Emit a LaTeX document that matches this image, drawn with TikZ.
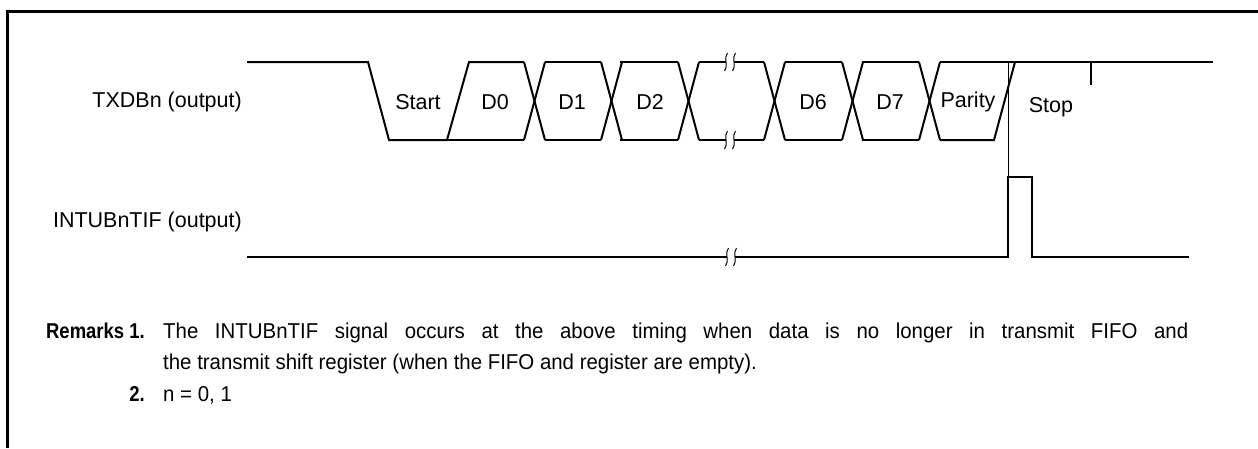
\documentclass[tikz,border=0pt]{standalone}
\usepackage{fontspec}
\setmainfont{Liberation Sans}
\newfontfamily\rmkfont[FakeStretch=0.95]{Liberation Sans}
\newfontfamily\rmkbold[FakeStretch=0.86]{Liberation Sans Bold}
\begin{document}
\begin{tikzpicture}[x=1pt,y=-1pt,
  sig/.style={line width=2pt,line join=miter},
  thinl/.style={line width=0.9pt},
  frame/.style={line width=3pt},
  lbl/.style={font=\fontsize{21.5}{25}\selectfont,inner sep=0pt},
  rmk/.style={font=\rmkfont\fontsize{21.5}{25}\selectfont,inner sep=0pt,anchor=base west},
  rmkb/.style={font=\rmkbold\fontsize{21.5}{25}\selectfont,inner sep=0pt,anchor=base east},
  brk/.style={line width=1pt}]
\useasboundingbox (0,0) rectangle (1258,448);
% frame
\draw[frame] (7.5,448) -- (7.5,11.5) -- (1258,11.5);
% labels
\node[lbl,anchor=east] (txd) at (242,102) {TXDBn (output)};
\node[lbl,anchor=east] (tif) at (242,222) {INTUBnTIF (output)};
% TXDBn waveform
\def\H{62}\def\L{140}
\draw[sig] (247,\H) -- (368,\H) -- (389,\L) -- (447,\L) -- (469,\H) -- (524,\H);
\foreach \a/\b in {545/601,620/678,785/842,862/919}{
  \draw[sig] (\a,\H) -- (\b,\H);
  \draw[sig] (\a,\L) -- (\b,\L);
}
\draw[sig] (447,\L) -- (524,\L);
\foreach \c in {524,601,678,764,842,919}{
  \draw[sig] (\c,\H) -- (\c+21,\L);
  \draw[sig] (\c,\L) -- (\c+21,\H);
}
\draw[sig] (699,\H) -- (726,\H) (734,\H) -- (764,\H);
\draw[sig] (699,\L) -- (726,\L) (734,\L) -- (764,\L);
\foreach \yy in {\H,\L}{
  \foreach \xx in {726,734}{
    \draw[brk] (\xx+1.5,\yy-9) .. controls (\xx-3,\yy-4) and (\xx+3,\yy+4) .. (\xx-1.5,\yy+9);
  }
}
\draw[sig] (940,\L) -- (994,\L) -- (1015,\H);
\draw[sig] (940,\H) -- (1213,\H);
\draw[sig] (1091,\H) -- (1091,85);
% cell labels
\node[lbl] (st) at (418,102) {Start};
\node[lbl] (d0) at (495,102) {D0};
\node[lbl] (d1) at (572,102) {D1};
\node[lbl] (d2) at (650,102) {D2};
\node[lbl] (d6) at (813,102) {D6};
\node[lbl] (d7) at (890,102) {D7};
\node[lbl] (par) at (968,102) {Parity};
\node[lbl] (stop) at (1051,107) {Stop};
% INTUBnTIF waveform
\def\P{177}\def\Q{257}
\draw[thinl] (1008.5,\H) -- (1008.5,\P);
\draw[sig] (247,\Q) -- (727,\Q) (735,\Q) -- (1008,\Q) -- (1008,\P) -- (1032,\P) -- (1032,\Q) -- (1189,\Q);
\foreach \xx in {727,735}{
  \draw[brk] (\xx+1.5,\Q-9) .. controls (\xx-3,\Q-4) and (\xx+3,\Q+4) .. (\xx-1.5,\Q+9);
}
% remarks
\node[rmkb] (r1) at (145,338) {Remarks 1.};
\node[rmk] (r1t) at (163,338) {\makebox[1025pt][s]{The INTUBnTIF signal occurs at the above timing when data is no longer in transmit FIFO and}};
\node[rmk] (r1u) at (163,369) {the transmit shift register (when the FIFO and register are empty).};
\node[rmkb] (r2) at (145,401) {2.};
\node[rmk] (r2t) at (163,401) {n = 0, 1};
\end{tikzpicture}
\end{document}
